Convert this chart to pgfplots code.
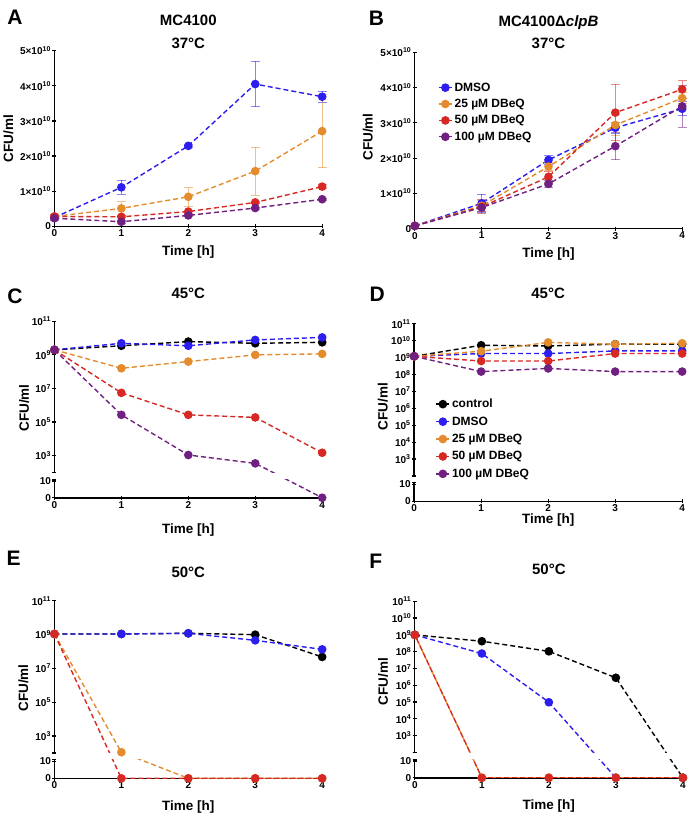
\documentclass[border=0pt]{standalone}
\usepackage{pgfplots}
\pgfplotsset{compat=1.18}
\usepackage{pgfplotstable}
\usepackage{fontspec}
\setmainfont{Liberation Sans}
\definecolor{cblue}{RGB}{45,30,240}
\definecolor{corange}{RGB}{228,140,45}
\definecolor{cred}{RGB}{215,40,35}
\definecolor{cpurple}{RGB}{112,32,128}
\pgfplotsset{
  noarrow/.style={axis line style={line width=1.4pt,-},
    every inner x axis line/.append style={-},
    every outer x axis line/.append style={-},
    every inner y axis line/.append style={-},
    every outer y axis line/.append style={-}},
  base/.style={
    scale only axis,
    tick style={line width=1.2pt,black},
    major tick length=4pt,
    tick align=outside,
    tick label style={font=\bfseries\fontsize{10}{12}\selectfont, inner sep=1.2pt},
    label style={font=\bfseries\fontsize{13.5}{16}\selectfont},
    title style={font=\bfseries\fontsize{15}{18}\selectfont,align=center,anchor=center},
    xtick={0,1,2,3,4}, xticklabels={0,1,2,3,4},
    xmin=-0.002, xmax=4.002, width=268pt,
  },
  ser/.style={color=#1, mark=*, mark size=3.6pt, line width=1.4pt, dash pattern=on 5pt off 3pt, mark options={solid}},
  eb/.style={error bars/.cd, y dir=both, y explicit,
    error bar style={line width=0.8pt,solid,opacity=0.55},
    error mark options={rotate=90,mark size=4.5pt,line width=0.8pt,opacity=0.55}},
  brk/.style={y filter/.expression={y<50 ? 0.5+y/10 : ln(max(y,1))/ln(10)}},
  up/.style={base, brk, axis y line=left, axis x line=none, noarrow, ymin=2, ymax=11,
    extra y ticks={2}, extra y tick labels={}},
  low/.style={base, brk, axis lines=left, noarrow, ymin=0.49, ymax=1.6, ytick={0.5,1.5}, yticklabels={0,10},
    extra y ticks={1.6}, extra y tick labels={}, xlabel={Time [h]}},
  oddticks/.style={ytick={3,5,7,9,11}, yticklabels={10\textsuperscript{3},10\textsuperscript{5},10\textsuperscript{7},10\textsuperscript{9},10\textsuperscript{11}}},
  allticks/.style={ytick={3,4,5,6,7,8,9,10,11}, yticklabels={10\textsuperscript{3},10\textsuperscript{4},10\textsuperscript{5},10\textsuperscript{6},10\textsuperscript{7},10\textsuperscript{8},10\textsuperscript{9},10\textsuperscript{10},10\textsuperscript{11}}},
  lin/.style={base, axis lines=left, noarrow, clip=false, ymin=0, ymax=5e10, scaled y ticks=false,
    ytick={0,1e10,2e10,3e10,4e10,5e10},
    yticklabels={0,1×10\textsuperscript{10},2×10\textsuperscript{10},3×10\textsuperscript{10},4×10\textsuperscript{10},5×10\textsuperscript{10}},
    xlabel={Time [h]}, ylabel={CFU/ml}},
  leg/.style={legend style={draw=none, fill=none, font=\bfseries\fontsize{12}{14}\selectfont, row sep=#1, inner sep=0pt},
    legend cell align=left,
    legend image code/.code={\draw[mark repeat=2,mark phase=2,##1,solid] plot coordinates {(0pt,0pt) (6.5pt,0pt) (13pt,0pt)};}},
}
\pgfplotstableread{
t ctl dmso d25 d50 d100
0 2e9 2e9 2e9 2e9 2e9
1 3.5e9 4.9e9 1.6e8 5.5e6 2.7e5
2 6.2e9 3.5e9 4e8 2.7e5 1.1e3
3 4.9e9 7.8e9 1e9 1.9e5 3.5e2
4 5.6e9 1.1e10 1.15e9 1.5e3 0
}\tabC
\pgfplotstableread{
t ctl dmso d25 d50 d100
0 1.2e9 1.2e9 1.2e9 1.2e9 1.2e9
1 5.4e9 1.75e9 2.4e9 6.3e8 1.5e8
2 4.9e9 1.75e9 8e9 6.3e8 2.3e8
3 6.3e9 2.5e9 6.2e9 1.75e9 1.5e8
4 6.3e9 2.5e9 7.1e9 1.75e9 1.5e8
}\tabD
\pgfplotstableread{
t ctl dmso d25 d50
0 1.1e9 1.1e9 1.1e9 1.1e9
1 1.1e9 1.1e9 110 0
2 1.2e9 1.2e9 0 0
3 1.0e9 4.6e8 0 0
4 4.8e7 1.35e8 0 0
}\tabE
\pgfplotstableread{
t ctl dmso d25 d50
0 1e9 1e9 1e9 1e9
1 4.2e8 7.8e7 0 0
2 1.05e8 9.8e4 0 0
3 2.8e6 0 0 0
4 0 0 0 0
}\tabF
\begin{document}
\begin{tikzpicture}
\useasboundingbox (0,0) rectangle (688pt,815pt);
\tikzset{letter/.style={font=\bfseries\fontsize{21}{24}\selectfont}}
\node[letter] at (15pt,798pt) {A};
\node[letter] at (376.5pt,797pt) {B};
\node[letter] at (15pt,519.2pt) {C};
\node[letter] at (377.3pt,520.3pt) {D};
\node[letter] at (13.7pt,256.7pt) {E};
\node[letter] at (375.7pt,254.2pt) {F};

% ---------- A ----------
\begin{axis}[lin, at={(54.3pt,588.7pt)}, anchor=south west, height=175.6pt,
  xlabel style={at={(axis description cs:0.5,0)},anchor=center,yshift=-25.4pt},
  ylabel style={at={(axis description cs:-0.171,0.5)},anchor=center},
  title={MC4100\\[4.6pt]37°C}, title style={at={(axis description cs:0.5,1.072)}}]
\addplot[ser=cblue, eb] coordinates {(0,0.25e10) +- (0,0.05e10) (1,1.11e10) +- (0,0.2e10) (2,2.29e10) +- (0,0.05e10) (3,4.05e10) +- (0,0.65e10) (4,3.69e10) +- (0,0.16e10)};
\addplot[ser=corange, eb] coordinates {(0,0.28e10) +- (0,0.05e10) (1,0.51e10) +- (0,0.19e10) (2,0.84e10) +- (0,0.26e10) (3,1.57e10) +- (0,0.69e10) (4,2.71e10) +- (0,1.04e10)};
\addplot[ser=cred, eb] coordinates {(0,0.28e10) +- (0,0.06e10) (1,0.27e10) +- (0,0.03e10) (2,0.42e10) +- (0,0.04e10) (3,0.68e10) +- (0,0.04e10) (4,1.13e10) +- (0,0.05e10)};
\addplot[ser=cpurple, eb] coordinates {(0,0.23e10) +- (0,0.05e10) (1,0.13e10) +- (0,0.04e10) (2,0.31e10) +- (0,0.03e10) (3,0.52e10) +- (0,0.03e10) (4,0.77e10) +- (0,0.03e10)};
\end{axis}

% ---------- B ----------
\begin{axis}[lin, leg=2.5pt, at={(414.7pt,586.3pt)}, anchor=south west, width=267.6pt, height=176.4pt,
  xlabel style={at={(axis description cs:0.5,0)},anchor=center,yshift=-25.6pt},
  ylabel style={at={(axis description cs:-0.175,0.52)},anchor=center},
  title={MC4100Δ\textit{clpB}\\[4.6pt]37°C}, title style={at={(axis description cs:0.5,1.081)}},
  legend style={at={(0.087,0.84)},anchor=north west}]
\addplot[ser=cblue, eb] coordinates {(0,0.08e10) +- (0,0.02e10) (1,0.72e10) +- (0,0.25e10) (2,1.95e10) +- (0,0.12e10) (3,2.86e10) +- (0,0.15e10) (4,3.4e10) +- (0,0.2e10)};
\addlegendentry{DMSO}
\addplot[ser=corange, eb] coordinates {(0,0.08e10) +- (0,0.02e10) (1,0.65e10) +- (0,0.15e10) (2,1.76e10) +- (0,0.12e10) (3,2.94e10) +- (0,0.3e10) (4,3.7e10) +- (0,0.15e10)};
\addlegendentry{25 µM DBeQ}
\addplot[ser=cred, eb] coordinates {(0,0.08e10) +- (0,0.02e10) (1,0.62e10) +- (0,0.2e10) (2,1.47e10) +- (0,0.15e10) (3,3.29e10) +- (0,0.8e10) (4,3.95e10) +- (0,0.25e10)};
\addlegendentry{50 µM DBeQ}
\addplot[ser=cpurple, eb] coordinates {(0,0.08e10) +- (0,0.02e10) (1,0.6e10) +- (0,0.1e10) (2,1.27e10) +- (0,0.1e10) (3,2.34e10) +- (0,0.38e10) (4,3.47e10) +- (0,0.6e10)};
\addlegendentry{100 µM DBeQ}
\end{axis}

% ---------- C ----------
\begin{axis}[up, oddticks, at={(54.3pt,342.5pt)}, anchor=south west, height=151.2pt,
  ylabel={CFU/ml}, ylabel style={at={(axis description cs:-0.113,0.427)},anchor=center},
  title={45°C}, title style={at={(axis description cs:0.5,1.146)}}]
\addplot[ser=black] table[x=t,y=ctl] {\tabC};
\addplot[ser=cblue] table[x=t,y=dmso] {\tabC};
\addplot[ser=corange] table[x=t,y=d25] {\tabC};
\addplot[ser=cred] table[x=t,y=d50] {\tabC};
\addplot[ser=cpurple] table[x=t,y=d100] {\tabC};
\end{axis}
\begin{axis}[low, at={(54.3pt,317.1pt)}, anchor=south west, height=18.65pt,
  xlabel style={at={(axis description cs:0.5,0)},anchor=center,yshift=-32.1pt}]
\addplot[ser=black] table[x=t,y=ctl] {\tabC};
\addplot[ser=cblue] table[x=t,y=dmso] {\tabC};
\addplot[ser=corange] table[x=t,y=d25] {\tabC};
\addplot[ser=cred] table[x=t,y=d50] {\tabC};
\addplot[ser=cpurple] table[x=t,y=d100] {\tabC};
\end{axis}

% ---------- D ----------
\begin{axis}[up, allticks, leg=3.5pt, at={(414pt,339.05pt)}, anchor=south west, width=268.3pt, height=152.1pt,
  ylabel={CFU/ml}, ylabel style={at={(axis description cs:-0.116,0.457)},anchor=center},
  title={45°C}, title style={at={(axis description cs:0.5,1.161)}},
  legend style={at={(0.08,0.52)},anchor=north west}]
\addplot[ser=black] table[x=t,y=ctl] {\tabD};
\addlegendentry{control}
\addplot[ser=cblue] table[x=t,y=dmso] {\tabD};
\addlegendentry{DMSO}
\addplot[ser=corange] table[x=t,y=d25] {\tabD};
\addlegendentry{25 µM DBeQ}
\addplot[ser=cred] table[x=t,y=d50] {\tabD};
\addlegendentry{50 µM DBeQ}
\addplot[ser=cpurple] table[x=t,y=d100] {\tabD};
\addlegendentry{100 µM DBeQ}
\end{axis}
\begin{axis}[low, at={(414pt,313.5pt)}, anchor=south west, width=268.3pt, height=18.76pt,
  xlabel style={at={(axis description cs:0.5,0)},anchor=center,yshift=-19pt}]
\addplot[ser=black] table[x=t,y=ctl] {\tabD};
\addplot[ser=cblue] table[x=t,y=dmso] {\tabD};
\addplot[ser=corange] table[x=t,y=d25] {\tabD};
\addplot[ser=cred] table[x=t,y=d50] {\tabD};
\addplot[ser=cpurple] table[x=t,y=d100] {\tabD};
\end{axis}

% ---------- E ----------
\begin{axis}[up, oddticks, at={(54.3pt,62.05pt)}, anchor=south west, height=152.1pt,
  ylabel={CFU/ml}, ylabel style={at={(axis description cs:-0.115,0.427)},anchor=center},
  title={50°C}, title style={at={(axis description cs:0.5,1.148)}}]
\addplot[ser=black] table[x=t,y=ctl] {\tabE};
\addplot[ser=cblue] table[x=t,y=dmso] {\tabE};
\addplot[ser=corange] table[x=t,y=d25] {\tabE};
\addplot[ser=cred] table[x=t,y=d50] {\tabE};
\end{axis}
\begin{axis}[low, at={(54.3pt,36.5pt)}, anchor=south west, height=18.76pt,
  xlabel style={at={(axis description cs:0.5,0)},anchor=center,yshift=-28.2pt}]
\addplot[ser=black] table[x=t,y=ctl] {\tabE};
\addplot[ser=cblue] table[x=t,y=dmso] {\tabE};
\addplot[ser=corange] table[x=t,y=d25] {\tabE};
\addplot[ser=cred] table[x=t,y=d50] {\tabE};
\end{axis}

% ---------- F ----------
\begin{axis}[up, allticks, at={(414.7pt,62.5pt)}, anchor=south west, width=268.3pt, height=151.2pt,
  ylabel={CFU/ml}, ylabel style={at={(axis description cs:-0.118,0.468)},anchor=center},
  title={50°C}, title style={at={(axis description cs:0.5,1.174)}}]
\addplot[ser=black] table[x=t,y=ctl] {\tabF};
\addplot[ser=cblue] table[x=t,y=dmso] {\tabF};
\addplot[ser=corange] table[x=t,y=d25] {\tabF};
\addplot[ser=cred, dash phase=4pt] table[x=t,y=d50] {\tabF};
\end{axis}
\begin{axis}[low, at={(414.7pt,37.1pt)}, anchor=south west, width=268.3pt, height=18.65pt,
  xlabel style={at={(axis description cs:0.5,0)},anchor=center,yshift=-27.8pt}]
\addplot[ser=black] table[x=t,y=ctl] {\tabF};
\addplot[ser=cblue] table[x=t,y=dmso] {\tabF};
\addplot[ser=corange] table[x=t,y=d25] {\tabF};
\addplot[ser=cred, dash phase=4pt] table[x=t,y=d50] {\tabF};
\end{axis}
\end{tikzpicture}
\end{document}
